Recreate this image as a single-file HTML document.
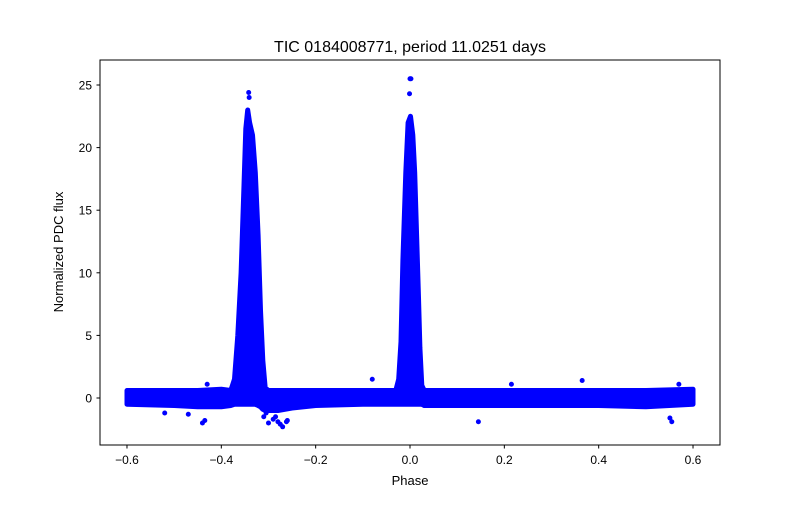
<!DOCTYPE html>
<html><head><meta charset="utf-8"><style>
body{margin:0;background:#fff}
svg text{font-family:"Liberation Sans","DejaVu Sans",sans-serif;fill:#000}
</style></head><body>
<svg id="chart" width="800" height="500" viewBox="0 0 800 500">
<rect x="0" y="0" width="800" height="500" fill="#fff"/>
<g id="plot"></g>
<rect x="100" y="60" width="620" height="385" fill="none" stroke="#000" stroke-width="1"/>
<g id="xt"></g>
<g id="yt"></g>
<text x="410" y="52" font-size="16" text-anchor="middle">TIC 0184008771, period 11.0251 days</text>
<text x="410" y="485" font-size="13" text-anchor="middle">Phase</text>
<text x="63" y="252" font-size="13" text-anchor="middle" transform="rotate(-90 63 252)">Normalized PDC flux</text>
</svg>
<script>
const phases = [-0.6,-0.5,-0.45,-0.4,-0.38,-0.372,-0.365,-0.358,-0.352,-0.348,-0.344,-0.340,-0.334,-0.328,-0.322,-0.317,-0.312,-0.307,-0.300,-0.28,-0.25,-0.2,-0.1,-0.03,-0.024,-0.019,-0.015,-0.009,-0.004,0.001,0.006,0.010,0.014,0.018,0.021,0.025,0.03,0.1,0.2,0.3,0.4,0.5,0.6];
const upper = [0.6,0.6,0.6,0.7,0.6,1.5,5,10,17,21.5,23,22,21,18,13,7,3,0.8,0.6,0.6,0.6,0.6,0.6,0.6,1.5,4.5,11,18,22,22.5,21,18,13,8,4,1,0.6,0.6,0.6,0.6,0.6,0.6,0.7];
const lower = [-0.5,-0.6,-0.7,-0.7,-0.6,-0.5,-0.5,-0.5,-0.5,-0.5,-0.5,-0.5,-0.5,-0.5,-0.6,-0.7,-0.9,-1.0,-1.0,-1.0,-0.8,-0.6,-0.5,-0.5,-0.5,-0.5,-0.5,-0.5,-0.5,-0.5,-0.5,-0.5,-0.5,-0.5,-0.5,-0.5,-0.6,-0.6,-0.6,-0.6,-0.6,-0.7,-0.5];
const outlierPhase = [-0.44,-0.435,-0.43,-0.52,-0.30,-0.29,-0.275,-0.27,-0.262,-0.26,-0.08,0.145,0.215,0.365,0.555,0.57,-0.342,-0.341,0.0,0.002,-0.001,0.551,-0.47,-0.31,-0.285,-0.305,-0.28];
const outlierFlux = [-2.0,-1.8,1.1,-1.2,-2.0,-1.7,-2.1,-2.3,-1.9,-1.8,1.5,-1.9,1.1,1.4,-1.9,1.1,24.4,24.0,25.5,25.5,24.3,-1.6,-1.3,-1.5,-1.5,-1.2,-1.9];
const xTicks = [-0.6,-0.4,-0.2,0.0,0.2,0.4,0.6];
const xTickLabels = ["\u22120.6","\u22120.4","\u22120.2","0.0","0.2","0.4","0.6"];
const yTicks = [0,5,10,15,20,25];
const yTickLabels = ["0","5","10","15","20","25"];

const NS = "http://www.w3.org/2000/svg";
const xs = v => 410 + v * 471.7;
const ys = v => 398 - v * 12.52;
const plot = document.getElementById('plot');
let d = "";
phases.forEach((p,i)=>{ d += (i?"L":"M") + xs(p).toFixed(1) + "," + ys(upper[i]).toFixed(1); });
for (let i = phases.length-1; i >= 0; i--) d += "L" + xs(phases[i]).toFixed(1) + "," + ys(lower[i]).toFixed(1);
d += "Z";
const band = document.createElementNS(NS,'path');
band.setAttribute('d', d);
band.setAttribute('fill', '#0000ff');
band.setAttribute('stroke', '#0000ff');
band.setAttribute('stroke-width', '5');
band.setAttribute('stroke-linejoin', 'round');


plot.appendChild(band);
outlierPhase.forEach((p,i)=>{
  const c = document.createElementNS(NS,'circle');
  c.setAttribute('cx', xs(p)); c.setAttribute('cy', ys(outlierFlux[i])); c.setAttribute('r', 2.5);
  c.setAttribute('fill', '#0000ff');
  
  
  plot.appendChild(c);
});
const xt = document.getElementById('xt');
xTicks.forEach((t,i)=>{
  const l = document.createElementNS(NS,'line');
  l.setAttribute('x1', xs(t)); l.setAttribute('x2', xs(t)); l.setAttribute('y1', 445); l.setAttribute('y2', 448.5);
  l.setAttribute('stroke', '#000');
  
  
  xt.appendChild(l);
  const tx = document.createElementNS(NS,'text');
  tx.setAttribute('x', xs(t)); tx.setAttribute('y', 464); tx.setAttribute('font-size', 12); tx.setAttribute('text-anchor', 'middle');
  tx.textContent = xTickLabels[i];
  
  
  xt.appendChild(tx);
});
const yt = document.getElementById('yt');
yTicks.forEach((t,i)=>{
  const l = document.createElementNS(NS,'line');
  l.setAttribute('x1', 96.5); l.setAttribute('x2', 100); l.setAttribute('y1', ys(t)); l.setAttribute('y2', ys(t));
  l.setAttribute('stroke', '#000');
  
  
  yt.appendChild(l);
  const tx = document.createElementNS(NS,'text');
  tx.setAttribute('x', 92); tx.setAttribute('y', ys(t) + 4.5); tx.setAttribute('font-size', 12); tx.setAttribute('text-anchor', 'end');
  tx.textContent = yTickLabels[i];
  
  
  yt.appendChild(tx);
});
</script>
</body></html>
